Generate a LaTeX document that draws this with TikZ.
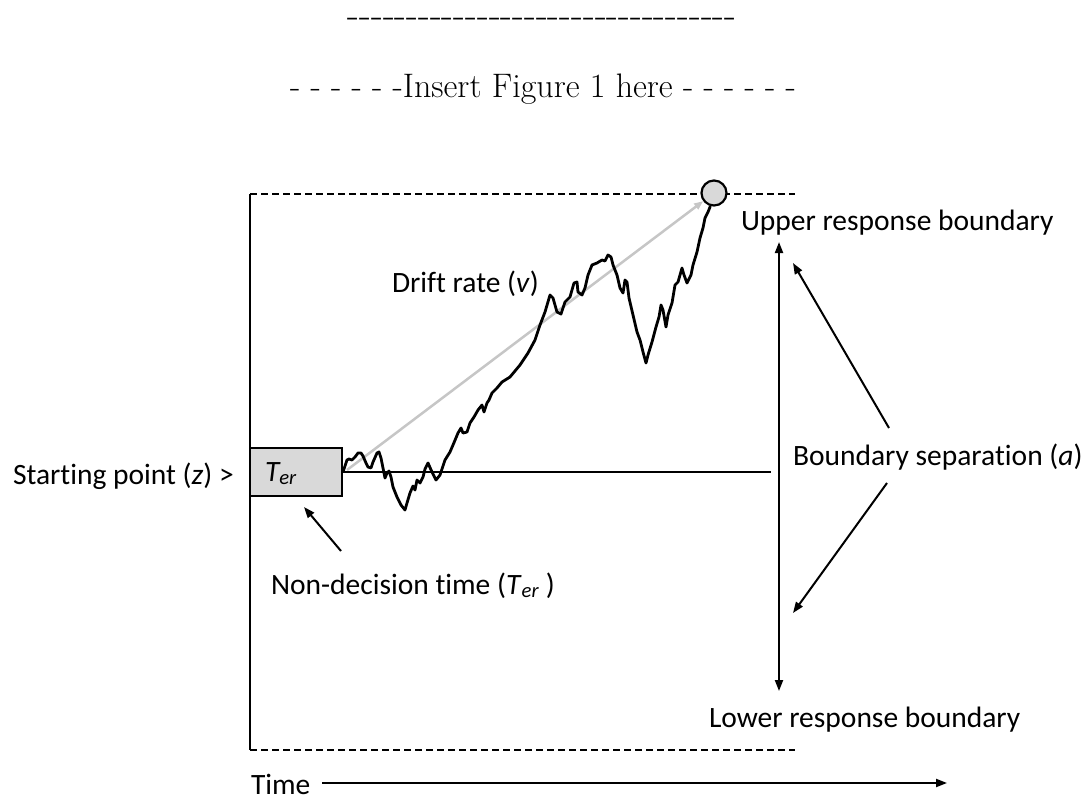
\documentclass[tikz,border=0pt]{standalone}
\usepackage{fontspec}
\newfontfamily\calib[Ligatures=NoCommon]{Carlito}
\usetikzlibrary{arrows.meta}
\tikzset{
  >={Triangle[length=11pt,width=8pt]},
  lbl/.style={font=\calib\fontsize{29.5}{34}\selectfont, anchor=base west, inner sep=0pt},
  heading/.style={anchor=base, inner sep=0pt},
  bound/.style={line width=2.2pt, dash pattern=on 7pt off 4pt},
  walk/.style={line width=2.8pt, line join=round},
  drift/.style={line width=2.5pt, gray!45, -{Triangle[length=9pt,width=7pt]}},
  terbox/.style={draw, line width=2pt, fill=gray!30, minimum width=92pt, minimum height=48pt, inner sep=0pt},
  hitdot/.style={circle, draw, line width=2.2pt, fill=gray!30, minimum size=25pt, inner sep=0pt}
}
\begin{document}
\begin{tikzpicture}[x=1pt,y=-1pt,line width=2pt]
  \useasboundingbox (0,0) rectangle (1082,798);
  \node[heading, font=\fontsize{39}{44}\selectfont] (rule) at (542,27)
    {-{}-{}-{}-{}-{}-{}-{}-{}-{}-{}-{}-{}-{}-{}-{}-{}-{}-{}-{}-{}-{}-{}-{}-{}-{}-{}-{}-{}-{}-{}-{}-{}-};
  \node[heading, font=\fontsize{34}{40}\selectfont] (insert) at (543,97)
    {- - - - - -Insert Figure 1 here - - - - - -};

  \draw (250,194) -- (250,750);
  \draw[bound] (250,194) -- (795,194);
  \draw[bound] (250,750) -- (795,750);

  \node[terbox] (ter) at (296,472) {};
  \node[lbl] (terlbl) at (264,481) {\itshape T\textsubscript{er}};
  \coordinate (zEnd) at (771,472);
  \draw (ter.east) -- (zEnd);

  \node[hitdot] (hit) at (714,193) {};
  \coordinate (z0) at (347,470);
  \draw[drift] (z0) -- (hit);
  \draw[walk] (ter.east) -- (347,460) -- (349,459) -- (352,460) -- (355,457) -- (358,453)
    -- (361,453) -- (363,456) -- (366,463) -- (368,467) -- (371,468) -- (373,462) -- (377,453)
    -- (379,452) -- (381,458) -- (383,468) -- (385,478) -- (387,473) -- (389,471) -- (391,477)
    -- (393,487) -- (397,497) -- (401,505) -- (405,510) -- (407,503) -- (410,493) -- (413,486)
    -- (415,490) -- (417,480) -- (420,483) -- (423,477) -- (425,469) -- (428,463) -- (432,472)
    -- (436,480) -- (440,475) -- (445,460) -- (450,452) -- (453,445) -- (458,433) -- (461,428)
    -- (463,433) -- (467,432) -- (470,423) -- (474,417) -- (478,410) -- (482,405) -- (484,412)
    -- (487,403) -- (489,400) -- (492,393) -- (497,388) -- (502,382) -- (510,377) -- (520,365)
    -- (528,353) -- (535,340) -- (540,325) -- (545,312) -- (550,295) -- (553,298) -- (557,312)
    -- (561,314) -- (565,302) -- (570,297) -- (574,283) -- (577,282) -- (578,292) -- (582,295)
    -- (585,288) -- (588,275) -- (592,265) -- (597,263) -- (602,260) -- (605,261) -- (608,255)
    -- (611,257) -- (613,265) -- (617,275) -- (620,288) -- (623,293) -- (625,280) -- (627,282)
    -- (629,298) -- (633,315) -- (637,332) -- (640,340) -- (643,352) -- (646,363) -- (648,355)
    -- (652,342) -- (656,327) -- (659,317) -- (661,305) -- (663,310) -- (666,327) -- (668,315)
    -- (672,303) -- (675,285) -- (678,282) -- (680,275) -- (682,268) -- (684,275) -- (687,283)
    -- (691,275) -- (693,265) -- (697,252) -- (700,238) -- (703,228) -- (705,218) -- (708,212)
    -- (710,207) -- (hit);

  \node[lbl] (upper) at (740,230) {Upper response boundary};
  \node[lbl] (lower) at (708,727) {Lower response boundary};
  \node[lbl] (drift) at (391,292) {Drift rate (\textit{v})};
  \node[lbl] (start) at (12,484) {Starting point (\textit{z}) >};
  \node[lbl] (sep) at (792,465) {Boundary separation (\textit{a})};
  \node[lbl] (nondec) at (270,594) {Non-decision time (\textit{T}\textsubscript{\textit{er}} )};
  \node[lbl] (time) at (250,794) {Time};

  \coordinate (sepTop) at (779,242);
  \coordinate (sepBot) at (779,691);
  \draw[<->] (sepTop) -- (sepBot);
  \coordinate (sepUp) at (889,428);
  \coordinate (upTip) at (793,263);
  \draw[->] (sepUp) -- (upTip);
  \coordinate (sepDown) at (887,483);
  \coordinate (downTip) at (793,613);
  \draw[->] (sepDown) -- (downTip);
  \coordinate (ndFrom) at (341,551);
  \coordinate (ndTip) at (304,507);
  \draw[->] (ndFrom) -- (ndTip);
  \coordinate (tStart) at (322,783);
  \coordinate (tEnd) at (947,783);
  \draw[->] (tStart) -- (tEnd);
\end{tikzpicture}
\end{document}
